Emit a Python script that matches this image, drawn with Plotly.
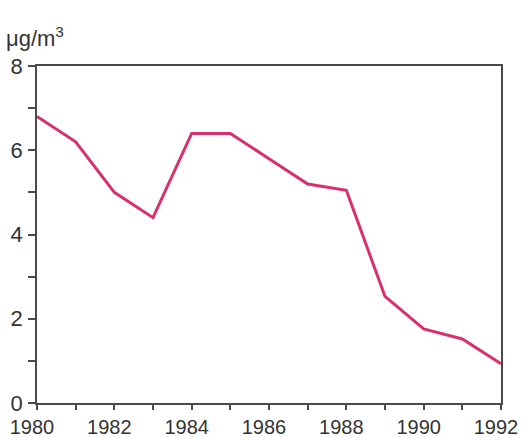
import plotly.graph_objects as go

years = [1980, 1981, 1982, 1983, 1984, 1985, 1986, 1987, 1988, 1989, 1990, 1991, 1992]
conc = [6.8, 6.2, 5.0, 4.4, 6.4, 6.4, 5.8, 5.2, 5.05, 2.53, 1.76, 1.52, 0.93]

x_ticks = list(range(1980, 1993, 2))
y_ticks = [0, 2, 4, 6, 8]
unit_label = "μg/m<sup>3</sup>"

axis_color = "#4a4a4a"
font = dict(family="Liberation Sans, Arial", size=22, color="#333333")

fig = go.Figure(
    go.Scatter(
        x=years,
        y=conc,
        mode="lines",
        line=dict(color="#d8306f", width=3),
        cliponaxis=False,
    )
)

fig.update_xaxes(
    range=[1980, 1992],
    tickvals=x_ticks,
    tickfont=dict(size=20),
    ticks="outside",
    ticklen=5,
    tickwidth=1.5,
    tickcolor=axis_color,
    minor=dict(dtick=1, ticks="outside", ticklen=5, tickwidth=1.5, tickcolor=axis_color),
    showline=True,
    linecolor=axis_color,
    linewidth=1.5,
    mirror=True,
    showgrid=False,
    zeroline=False,
    automargin=False,
    ticklabelshift=-5,
    ticklabelstandoff=0,
)
fig.update_yaxes(
    range=[0, 8],
    tickvals=y_ticks,
    ticks="outside",
    ticklen=7,
    tickwidth=1.5,
    tickcolor=axis_color,
    minor=dict(dtick=1, ticks="outside", ticklen=7, tickwidth=1.5, tickcolor=axis_color),
    showline=True,
    linecolor=axis_color,
    linewidth=1.5,
    mirror=True,
    showgrid=False,
    zeroline=False,
    automargin=False,
    ticklabelstandoff=1,
)

fig.add_annotation(
    text=unit_label,
    xref="paper",
    yref="paper",
    x=-0.072,
    y=1.04,
    xanchor="left",
    yanchor="bottom",
    showarrow=False,
    font=dict(family="Liberation Sans, Arial", size=22, color="#333333"),
)

fig.update_layout(
    width=530,
    height=437,
    margin=dict(l=37, r=29, t=66, b=34),
    plot_bgcolor="white",
    paper_bgcolor="white",
    font=font,
    showlegend=False,
)

# drop the browser's default 8px body margin so the figure sits at the page corner
fig.write_html(
    "out.html",
    config={"displayModeBar": False},
    post_script="document.body.style.margin='0';",
)
